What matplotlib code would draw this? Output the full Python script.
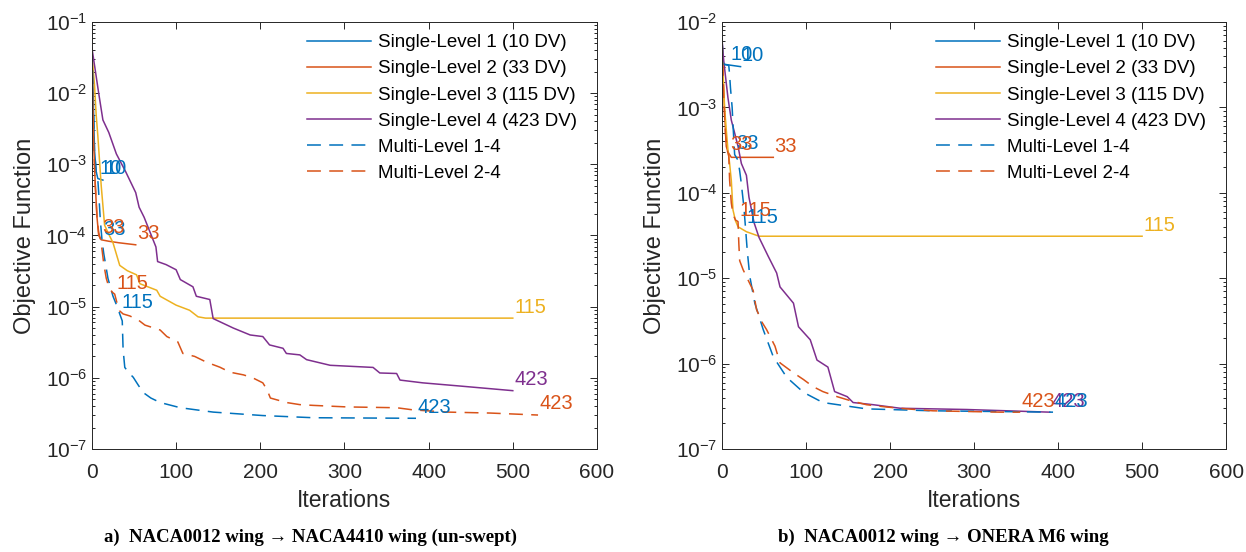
import matplotlib
matplotlib.use('Agg')
import matplotlib.pyplot as plt
from matplotlib.ticker import LogLocator, NullFormatter

plt.rcParams['font.family'] = ['Liberation Sans', 'DejaVu Sans']
plt.rcParams['mathtext.default'] = 'regular'
plt.rcParams['axes.unicode_minus'] = False
plt.rcParams['lines.scale_dashes'] = False

# colores por defecto de matlab
azul = '#0072BD'
naranja = '#D95319'
amarillo = '#EDB120'
morado = '#7E2F8E'

# ---------------- caso a) NACA0012 -> NACA4410 ----------------
sl1_a_it = [0, 1, 2, 3, 5, 7, 13]
sl1_a_f = [4.3e-2, 1.6e-2, 5.0e-3, 1.6e-3, 7.9e-4, 6.3e-4, 6.0e-4]

sl2_a_it = [0, 1, 2, 4, 6, 8, 11, 20, 32, 52]
sl2_a_f = [4.3e-2, 7.9e-3, 2.0e-3, 5.0e-4, 1.8e-4, 1.0e-4, 8.7e-5, 8.3e-5, 7.9e-5, 7.4e-5]

sl3_a_it = [0, 1, 3, 5, 7, 11, 15, 19, 25, 33, 42, 53, 57, 77, 81, 100, 116, 126, 135, 500]
sl3_a_f = [4.3e-2, 2.5e-2, 1.3e-2, 5.0e-3, 2.5e-3, 5.0e-4, 1.4e-4, 1.1e-4, 7.9e-5, 3.8e-5,
           3.2e-5, 2.8e-5, 2.1e-5, 1.7e-5, 1.4e-5, 1.05e-5, 8.9e-6, 7.2e-6, 6.9e-6, 6.9e-6]

sl4_a_it = [0, 8, 13, 20, 29, 40, 52, 56, 62, 76, 78, 88, 100, 105, 120, 124, 140, 144, 168,
            188, 203, 211, 227, 231, 247, 255, 283, 334, 342, 362, 366, 393, 441, 500]
sl4_a_f = [4.3e-2, 1.0e-2, 4.2e-3, 2.8e-3, 1.4e-3, 7.9e-4, 4.0e-4, 2.5e-4, 1.8e-4, 6.9e-5,
           4.3e-5, 3.9e-5, 3.3e-5, 2.4e-5, 1.9e-5, 1.4e-5, 1.26e-5, 6.8e-6, 5.0e-6, 4.0e-6,
           3.8e-6, 2.9e-6, 2.6e-6, 2.2e-6, 2.1e-6, 1.8e-6, 1.5e-6, 1.4e-6, 1.17e-6, 1.15e-6,
           9.3e-7, 8.5e-7, 7.6e-7, 6.6e-7]

ml14_a_it = [0, 1, 2, 3, 5, 7, 8, 10, 12, 14, 19, 25, 30, 33, 36, 37, 39, 44, 49, 55, 61,
             70, 81, 105, 144, 203, 263, 385]
ml14_a_f = [4.3e-2, 1.6e-2, 5.0e-3, 1.6e-3, 7.9e-4, 6.0e-4, 4.0e-4, 1.6e-4, 8.5e-5, 5.6e-5,
            2.5e-5, 1.4e-5, 1.0e-5, 7.9e-6, 6.3e-6, 2.5e-6, 1.4e-6, 1.17e-6, 1.02e-6, 7.9e-7,
            6.2e-7, 5.2e-7, 4.5e-7, 3.8e-7, 3.3e-7, 2.95e-7, 2.75e-7, 2.7e-7]
ml14_a_cambios = [7, 12, 33, 385]

ml24_a_it = [0, 1, 2, 4, 6, 8, 10, 12, 14, 17, 20, 24, 27, 30, 33, 37, 45, 55, 63, 81, 89,
             102, 108, 122, 136, 152, 164, 180, 191, 203, 208, 212, 231, 247, 263, 303, 362,
             381, 422, 473, 530]
ml24_a_f = [4.3e-2, 7.9e-3, 2.0e-3, 5.0e-4, 1.8e-4, 1.1e-4, 8.9e-5, 6.3e-5, 4.0e-5, 2.5e-5,
            1.9e-5, 1.6e-5, 1.5e-5, 1.1e-5, 8.7e-6, 7.9e-6, 7.4e-6, 6.5e-6, 5.5e-6, 4.7e-6,
            3.8e-6, 3.2e-6, 2.2e-6, 2.0e-6, 1.66e-6, 1.41e-6, 1.2e-6, 1.1e-6, 1.0e-6, 8.5e-7,
            6.8e-7, 5.2e-7, 4.5e-7, 4.2e-7, 4.1e-7, 3.9e-7, 3.8e-7, 3.55e-7, 3.3e-7, 3.2e-7,
            3.0e-7]
ml24_a_cambios = [10, 27, 530]

# ---------------- caso b) NACA0012 -> ONERA M6 ----------------
sl1_b_it = [0, 1, 2, 22]
sl1_b_f = [6.2e-3, 3.5e-3, 3.2e-3, 3.0e-3]

sl2_b_it = [0, 1, 3, 5, 7, 11, 61]
sl2_b_f = [6.2e-3, 2.5e-3, 8.9e-4, 3.5e-4, 3.0e-4, 2.6e-4, 2.6e-4]

sl3_b_it = [0, 1, 3, 5, 7, 9, 11, 13, 16, 19, 29, 44, 500]
sl3_b_f = [6.2e-3, 2.8e-3, 1.0e-3, 5.5e-4, 3.2e-4, 2.2e-4, 1.4e-4, 6.3e-5, 4.7e-5, 4.0e-5,
           3.5e-5, 3.1e-5, 3.1e-5]

sl4_b_it = [0, 2, 7, 11, 15, 19, 23, 29, 32, 38, 44, 55, 65, 69, 85, 91, 105, 113, 126, 134,
            149, 156, 180, 212, 291, 390]
sl4_b_f = [6.2e-3, 3.5e-3, 1.3e-3, 7.1e-4, 5.0e-4, 3.5e-4, 2.2e-4, 1.6e-4, 8.9e-5, 4.5e-5,
           3.0e-5, 1.8e-5, 1.15e-5, 7.9e-6, 5.1e-6, 2.7e-6, 1.9e-6, 1.1e-6, 9.1e-7, 4.7e-7,
           4.1e-7, 3.5e-7, 3.3e-7, 3.0e-7, 2.9e-7, 2.7e-7]

ml14_b_it = [0, 1, 2, 8, 9, 10, 12, 13, 15, 19, 21, 23, 26, 28, 30, 33, 39, 49, 61, 77, 97,
             120, 172, 251, 394]
ml14_b_f = [6.2e-3, 3.5e-3, 3.2e-3, 3.1e-3, 2.4e-3, 1.7e-3, 1.0e-3, 6.3e-4, 2.8e-4, 2.4e-4,
            1.8e-4, 1.26e-4, 6.8e-5, 3.8e-5, 2.1e-5, 1.05e-5, 5.1e-6, 2.5e-6, 1.2e-6, 6.9e-7,
            4.6e-7, 3.5e-7, 2.95e-7, 2.8e-7, 2.7e-7]
ml14_b_cambios = [8, 15, 28, 394]

ml24_b_it = [0, 2, 4, 6, 8, 9, 11, 13, 16, 19, 20, 21, 25, 31, 37, 41, 48, 53, 63, 69, 85,
             97, 108, 120, 137, 152, 172, 196, 220, 251, 331, 355]
ml24_b_f = [6.2e-3, 1.26e-3, 5.0e-4, 3.2e-4, 2.7e-4, 1.4e-4, 7.6e-5, 5.6e-5, 4.8e-5, 4.6e-5,
            2.5e-5, 1.6e-5, 1.26e-5, 9.5e-6, 7.2e-6, 4.3e-6, 3.0e-6, 2.5e-6, 1.6e-6, 1.02e-6,
            7.8e-7, 6.5e-7, 5.4e-7, 4.7e-7, 4.1e-7, 3.7e-7, 3.3e-7, 3.1e-7, 2.95e-7, 2.8e-7,
            2.7e-7, 2.7e-7]
ml24_b_cambios = [8, 19, 355]

etiquetas_sl = ['Single-Level 1 (10 DV)', 'Single-Level 2 (33 DV)',
                'Single-Level 3 (115 DV)', 'Single-Level 4 (423 DV)']
etiquetas_ml = ['Multi-Level 1-4', 'Multi-Level 2-4']
dv_14 = ['10', '33', '115', '423']
dv_24 = ['33', '115', '423']

casos = [
    dict(sl=[(sl1_a_it, sl1_a_f), (sl2_a_it, sl2_a_f), (sl3_a_it, sl3_a_f), (sl4_a_it, sl4_a_f)],
         ml14=(ml14_a_it, ml14_a_f, ml14_a_cambios), ml24=(ml24_a_it, ml24_a_f, ml24_a_cambios),
         ylim=(1e-7, 1e-1), titulo='a)  NACA0012 wing \u2192 NACA4410 wing (un-swept)'),
    dict(sl=[(sl1_b_it, sl1_b_f), (sl2_b_it, sl2_b_f), (sl3_b_it, sl3_b_f), (sl4_b_it, sl4_b_f)],
         ml14=(ml14_b_it, ml14_b_f, ml14_b_cambios), ml24=(ml24_b_it, ml24_b_f, ml24_b_cambios),
         ylim=(1e-7, 1e-2), titulo='b)  NACA0012 wing \u2192 ONERA M6 wing'),
]

colores_sl = [azul, naranja, amarillo, morado]
gris = '#262626'


def etiqueta(ax, x, y, texto, color):
    ax.annotate(texto, (x, y), xytext=(1.0, 8), textcoords='offset points',
                color=color, fontsize=14.5, ha='left', va='center')


fig = plt.figure(figsize=(12.46, 5.52), dpi=100)
posiciones = [[0.0738, 0.1866, 0.4053, 0.7736], [0.5795, 0.1866, 0.4045, 0.7736]]
centros_titulo = [0.249, 0.757]

for k, caso in enumerate(casos):
    ax = fig.add_axes(posiciones[k])

    # curvas de un solo nivel, etiqueta al final
    for (it, f), c, lab, dv in zip(caso['sl'], colores_sl, etiquetas_sl, dv_14):
        ax.plot(it, f, color=c, lw=1.1, label=lab)
        etiqueta(ax, it[-1], f[-1], dv, c)

    # curvas multinivel, etiqueta en cada cambio de nivel
    for (it, f, cambios), c, lab, dvs in zip([caso['ml14'], caso['ml24']], [azul, naranja],
                                            etiquetas_ml, [dv_14, dv_24]):
        ax.plot(it, f, color=c, lw=1.1, dashes=(10, 6), label=lab)
        for cam, dv in zip(cambios, dvs):
            etiqueta(ax, cam, f[it.index(cam)], dv, c)

    ax.set_yscale('log')
    ax.set_xlim(0, 600)
    ax.set_ylim(*caso['ylim'])
    ax.set_xticks(range(0, 601, 100))
    ax.yaxis.set_major_locator(LogLocator(base=10, numticks=20))
    ax.yaxis.set_minor_locator(LogLocator(base=10, subs=range(2, 10), numticks=20))
    ax.yaxis.set_minor_formatter(NullFormatter())
    ax.tick_params(which='both', direction='in', top=True, right=True, colors=gris,
                   labelsize=15, width=0.7)
    ax.tick_params(which='major', length=5)
    ax.tick_params(which='minor', length=2.5)
    ax.tick_params(axis='x', which='major', pad=10)
    for s in ax.spines.values():
        s.set_color(gris)
        s.set_linewidth(0.7)

    ax.set_xlabel('Iterations', fontsize=16.5, color=gris, labelpad=5)
    ax.set_ylabel('Objective Function', fontsize=17, color=gris, labelpad=7)

    ax.legend(loc='upper right', bbox_to_anchor=(0.985, 1.0), frameon=False, fontsize=13.5,
              handlelength=3.4, handletextpad=0.4, labelspacing=0.48, borderaxespad=0.25)

    fig.text(centros_titulo[k], 0.027, caso['titulo'], ha='center', va='center',
             fontsize=13.5, fontweight='bold', family='Liberation Serif')

fig.savefig('out.png', dpi=100)
